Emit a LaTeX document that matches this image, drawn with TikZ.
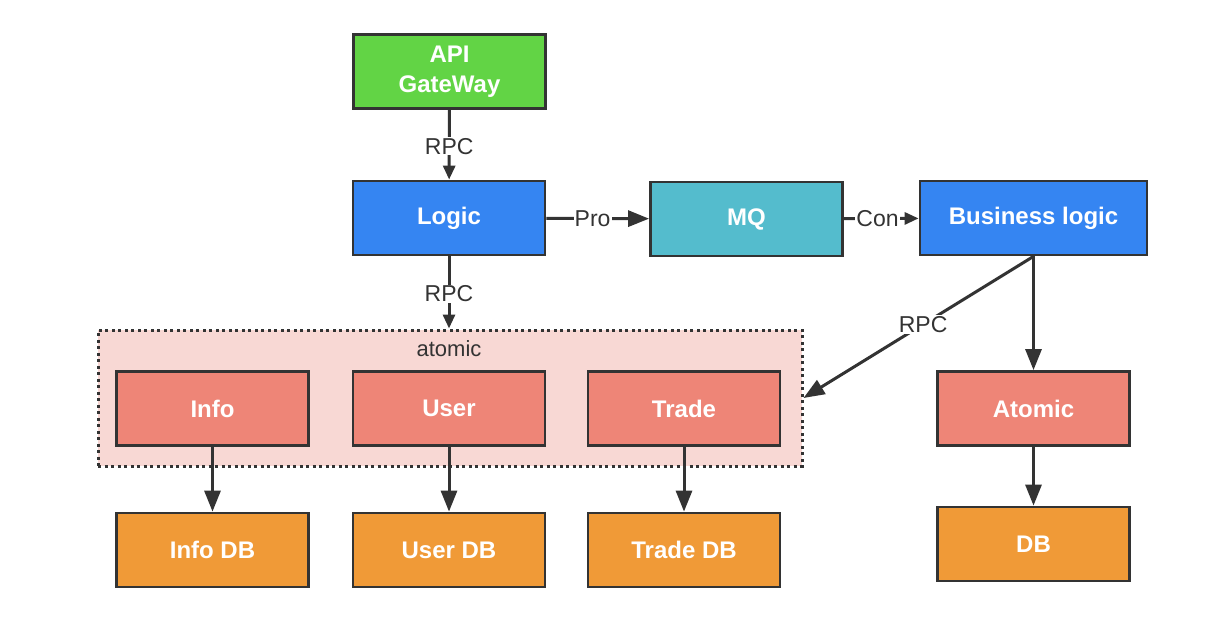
\documentclass[tikz,border=0pt]{standalone}
\usepackage{fontspec}
\setmainfont{Liberation Sans}
\usetikzlibrary{arrows.meta}
\definecolor{edgec}{HTML}{333333}
\definecolor{cgreen}{HTML}{62D445}
\definecolor{cblue}{HTML}{3585F2}
\definecolor{cmq}{HTML}{54BCCD}
\definecolor{csalmon}{HTML}{EE8577}
\definecolor{corange}{HTML}{F09A37}
\definecolor{cgroup}{HTML}{F8D8D4}
\tikzset{
  box/.style={draw=edgec, line width=2.8pt, minimum width=192pt, minimum height=74pt,
    text=white, font=\fontsize{24}{30}\selectfont\bfseries, align=center, inner sep=0pt},
  conn/.style={draw=edgec, line width=3pt, -{Triangle[length=21pt,width=16pt]}},
  small/.style={draw=edgec, line width=3pt, -{Triangle[length=14pt,width=12pt]}},
  lbl/.style={fill=white, text=edgec, font=\fontsize{23}{26}\selectfont, inner sep=1pt}
}
\begin{document}
\begin{tikzpicture}[x=1pt,y=-1pt]
\useasboundingbox (0,0) rectangle (1226,634);
\node[draw=edgec, line width=3pt, dash pattern=on 3pt off 3.5pt, fill=cgroup,
  minimum width=704pt, minimum height=136pt, inner sep=0pt] (group) at (450,398) {};
\node[text=edgec, font=\fontsize{22}{24}\selectfont, inner sep=0pt] (atomlbl) at (449,349) {atomic};
\node[box, fill=cgreen] (api) at (449.5,71.5) {API\\GateWay};
\node[box, fill=cblue] (logic) at (449,218) {Logic};
\node[box, fill=cmq] (mq) at (746.5,219) {MQ};
\node[box, fill=cblue, minimum width=227pt] (biz) at (1033.5,218) {Business logic};
\node[box, fill=csalmon] (info) at (212.5,408.5) {Info};
\node[box, fill=csalmon] (user) at (449,408.5) {User};
\node[box, fill=csalmon] (trade) at (684,408.5) {Trade};
\node[box, fill=csalmon] (atomic) at (1033.5,408.5) {Atomic};
\node[box, fill=corange] (infodb) at (212.5,550) {Info DB};
\node[box, fill=corange] (userdb) at (449,550) {User DB};
\node[box, fill=corange] (tradedb) at (684,550) {Trade DB};
\node[box, fill=corange] (db) at (1033.5,544) {DB};
\draw[small] (api) -- node[lbl, pos=0.52] (l1) {RPC} (logic);
\draw[small] (logic) -- node[lbl, pos=0.52] (l2) {RPC} (group.north -| logic);
\draw[conn] (logic) -- node[lbl, pos=0.45] (l3) {Pro} (mq);
\draw[small] (mq) -- node[lbl, pos=0.45] (l4) {Con} (biz);
\draw[conn] (biz.south) -- node[lbl, pos=0.48] (l5) {RPC} (group.east);
\draw[conn] (biz.south) -- (atomic.north);
\draw[conn] (info) -- (infodb);
\draw[conn] (user) -- (userdb);
\draw[conn] (trade) -- (tradedb);
\draw[conn] (atomic) -- (db);
\end{tikzpicture}
\end{document}
